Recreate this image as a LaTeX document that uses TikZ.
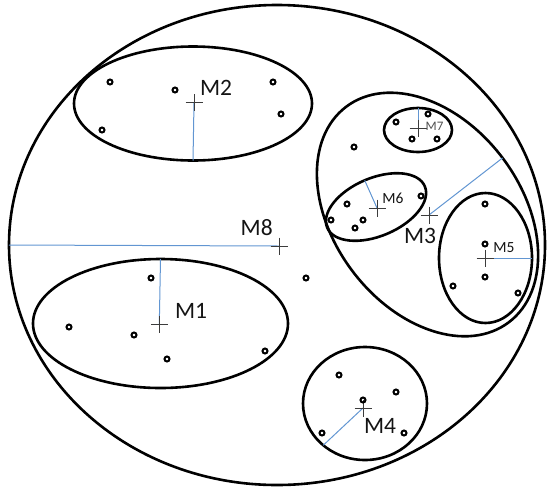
\documentclass[tikz,border=0pt]{standalone}
\usepackage{fontspec}
\setmainfont{Carlito}
\usetikzlibrary{shapes.geometric}
\definecolor{radblue}{RGB}{98,150,210}
\definecolor{crossgray}{RGB}{60,60,60}
\definecolor{labelink}{RGB}{20,20,20}
\definecolor{smallink}{RGB}{80,80,80}
\tikzset{
  ring/.style={ellipse, draw=black, line width=2.6pt, inner sep=0pt, outer sep=0pt},
  datapoint/.style={circle, draw=black, line width=2pt, minimum size=5pt, inner sep=0pt},
  radiusline/.style={draw=radblue, line width=1pt},
  biglabel/.style={inner sep=0pt, text=labelink, font=\fontsize{23.5}{28}\selectfont},
  midlabel/.style={inner sep=0pt, text=labelink, font=\fontsize{15.5}{18}\selectfont},
  smalllabel/.style={inner sep=0pt, text=smallink, font=\fontsize{13}{15}\selectfont},
  plus/.pic={\draw[crossgray, line width=0.9pt] (-8.5,0) -- (8.5,0) (0,-8.5) -- (0,8.5);}
}
\begin{document}
\begin{tikzpicture}[x=1pt, y=-1pt]
\useasboundingbox (0,0) rectangle (548,488);

% cluster outlines
\node[ring, minimum width=536pt, minimum height=480pt] (M8) at (277,245) {};
\node[ring, minimum width=238pt, minimum height=114pt] (M2) at (193,103.5) {};
\node[ring, minimum width=255pt, minimum height=129pt] (M1) at (160.5,323.5) {};
\node[ring, minimum width=124pt, minimum height=113pt] (M4) at (365,403.5) {};
\node[ring, minimum width=270pt, minimum height=188pt, rotate=-53] (M3) at (427.5,214.5) {};
\node[ring, minimum width=93pt, minimum height=130pt] (M5) at (485.5,258) {};
\node[ring, minimum width=106pt, minimum height=58pt, rotate=23] (M6) at (376,207) {};
\node[ring, minimum width=68pt, minimum height=44pt] (M7) at (418,130) {};

% centres
\coordinate (c8) at (279,246);
\coordinate (c2) at (194,102.7);
\coordinate (c1) at (159.3,324.3);
\coordinate (c4) at (363,408);
\coordinate (c3) at (429,215);
\coordinate (c5) at (485,258);
\coordinate (c6) at (377,208);
\coordinate (c7) at (418,128);

% radius lines
\draw[radiusline] (c8) -- (M8.west);
\draw[radiusline] (c2) -- (M2.south);
\draw[radiusline] (c1) -- (M1.north);
\draw[radiusline] (c4) -- (M4.-135);
\draw[radiusline] (c3) -- (M3.north);
\draw[radiusline] (c5) -- (M5.east);
\draw[radiusline] (c6) -- (M6.north);
\draw[radiusline] (c7) -- (M7.north);

% crosses
\foreach \c in {c8,c2,c1,c4,c3,c5,c6,c7} \pic at (\c) {plus};

% data points
\node[datapoint] (p1) at (110,82) {};
\node[datapoint] (p2) at (175,90) {};
\node[datapoint] (p3) at (273,82) {};
\node[datapoint] (p4) at (281,114) {};
\node[datapoint] (p5) at (102,130) {};
\node[datapoint] (p6) at (151,278) {};
\node[datapoint] (p7) at (69,327) {};
\node[datapoint] (p8) at (134,335) {};
\node[datapoint] (p9) at (167,359) {};
\node[datapoint] (p10) at (265,351) {};
\node[datapoint] (p11) at (306,278) {};
\node[datapoint] (p12) at (339,375) {};
\node[datapoint] (p13) at (396,392) {};
\node[datapoint] (p14) at (363,400) {};
\node[datapoint] (p15) at (322,433) {};
\node[datapoint] (p16) at (404,433) {};
\node[datapoint] (p17) at (485,204) {};
\node[datapoint] (p18) at (485,244) {};
\node[datapoint] (p19) at (485,277) {};
\node[datapoint] (p20) at (453,286) {};
\node[datapoint] (p21) at (518,293) {};
\node[datapoint] (p22) at (347,204) {};
\node[datapoint] (p23) at (331,220) {};
\node[datapoint] (p24) at (363,220) {};
\node[datapoint] (p25) at (355,228) {};
\node[datapoint] (p26) at (421,196) {};
\node[datapoint] (p27) at (396,122) {};
\node[datapoint] (p28) at (428,114) {};
\node[datapoint] (p29) at (412,139) {};
\node[datapoint] (p30) at (437,139) {};
\node[datapoint] (p31) at (354,147) {};

% labels
\node[biglabel] (l2) at (216,88.3) {M2};
\node[biglabel] (l1) at (191,311) {M1};
\node[biglabel] (l8) at (256.7,228) {M8};
\node[biglabel] (l3) at (420,236) {M3};
\node[biglabel] (l4) at (380,425.5) {M4};
\node[midlabel] (l5) at (504,248) {M5};
\node[midlabel] (l6) at (393,198) {M6};
\node[smalllabel] (l7) at (434.5,126) {M7};
\end{tikzpicture}
\end{document}
